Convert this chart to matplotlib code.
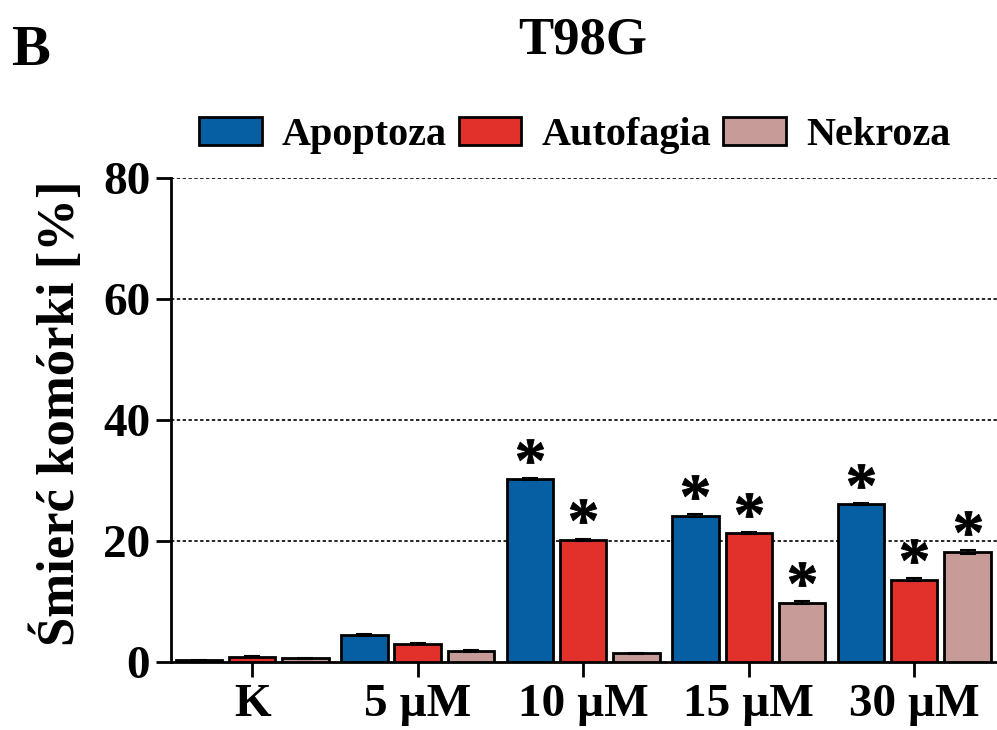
import matplotlib
matplotlib.use("Agg")
import matplotlib.pyplot as plt
import numpy as np

plt.rcParams['font.family'] = ['Liberation Serif', 'DejaVu Serif']
plt.rcParams['font.weight'] = 'bold'
plt.rcParams['mathtext.fontset'] = 'custom'
plt.rcParams['mathtext.rm'] = 'Liberation Serif:bold'
plt.rcParams['mathtext.it'] = 'Liberation Serif:bold'
plt.rcParams['mathtext.default'] = 'rm'

groups = ["K", "5 µM", "10 µM", "15 µM", "30 µM"]
series = ["Apoptoza", "Autofagia", "Nekroza"]
apoptoza = [0.3, 4.5, 30.2, 24.2, 26.1]
autofagia = [0.9, 3.0, 20.2, 21.3, 13.6]
nekroza = [0.6, 1.8, 1.4, 9.8, 18.2]
apoptoza_err = [0.1, 0.2, 0.2, 0.2, 0.2]
autofagia_err = [0.1, 0.1, 0.2, 0.2, 0.2]
nekroza_err = [0.1, 0.1, 0.1, 0.3, 0.3]
apoptoza_sig = [False, False, True, True, True]
autofagia_sig = [False, False, True, True, True]
nekroza_sig = [False, False, False, True, True]
colors = ["#075fa3", "#e2302b", "#c69b98"]

fig = plt.figure(figsize=(9.97, 7.3), dpi=100)
ax = fig.add_axes([0.1715, 0.0932, 0.8285, 0.663])

x = np.arange(len(groups))
step = 0.322
width = 0.28
values = [apoptoza, autofagia, nekroza]
errors = [apoptoza_err, autofagia_err, nekroza_err]
sigs = [apoptoza_sig, autofagia_sig, nekroza_sig]
star_gap = 4.5  # distance from bar top to asterisk centre, in % units

for i, (vals, errs, sig, col, name) in enumerate(zip(values, errors, sigs, colors, series)):
    pos = x + (i - 1) * step
    ax.bar(pos, vals, width, color=col, edgecolor="black", linewidth=2,
           yerr=errs, error_kw=dict(ecolor="black", elinewidth=1.5, capsize=6, capthick=1.5),
           label=name, zorder=3)
    sp = [p for p, s in zip(pos, sig) if s]
    sv = [v + e + star_gap for v, e, s in zip(vals, errs, sig) if s]
    ax.plot(sp, sv, linestyle="none", marker="$*$", markersize=19,
            color="black", markeredgewidth=0.6, zorder=4)

ax.set_xlim(-0.49, 4.5)
ax.set_ylim(0, 80)
ax.set_yticks([0, 20, 40, 60, 80])
ax.set_xticks(x)
ax.set_xticklabels(groups)
for yv in [20, 40, 60, 80]:
    ax.axhline(yv, color="black", linestyle=(0, (2, 1.5)), linewidth=1.2, zorder=1)

for side in ["top", "right"]:
    ax.spines[side].set_visible(False)
for side in ["left", "bottom"]:
    ax.spines[side].set_linewidth(2)
ax.tick_params(axis="both", length=11, width=2, labelsize=34)
ax.tick_params(axis="x", pad=5)
ax.tick_params(axis="y", pad=4)
for lbl in ax.get_xticklabels() + ax.get_yticklabels():
    lbl.set_fontweight("bold")

ax.set_ylabel("Śmierć komórki [%]", fontsize=38, fontweight="bold")
ax.yaxis.set_label_coords(-0.104, 0.514)

ax.legend(loc="center left", bbox_to_anchor=(0.034, 1.088), ncol=3, frameon=False,
          fontsize=29, handlelength=1.55, handleheight=0.7, handletextpad=0.5,
          columnspacing=0.3, borderaxespad=0, borderpad=0)

fig.text(0.584, 0.945, "T98G", ha="center", va="center", fontsize=38, fontweight="bold")
fig.text(0.011, 0.93, "B", ha="left", va="center", fontsize=42, fontweight="bold")

fig.savefig("out.png", dpi=100)
